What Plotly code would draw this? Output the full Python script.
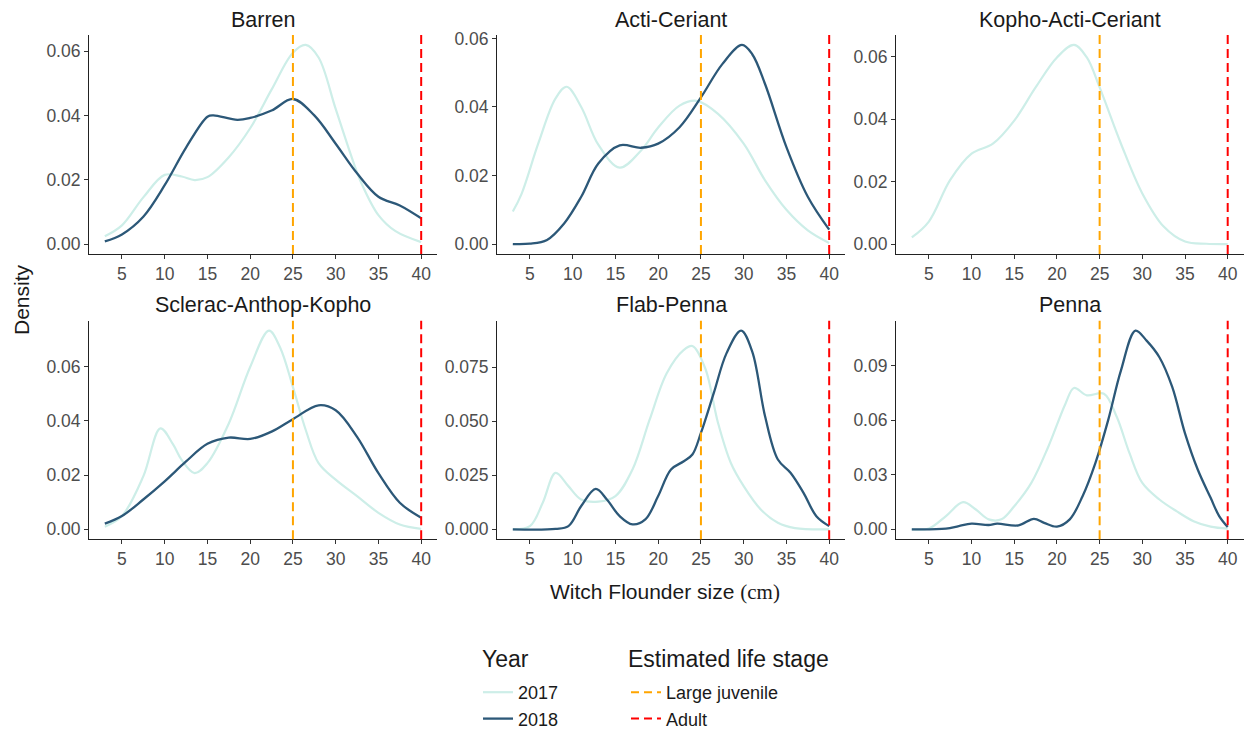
import plotly.graph_objects as go

# ---------------- data ----------------
panels = ["Barren", "Acti-Ceriant", "Kopho-Acti-Ceriant",
          "Sclerac-Anthop-Kopho", "Flab-Penna", "Penna"]

barren_x17 = [3, 5, 7.5, 10, 12, 13.5, 15, 17.5, 20, 22.5, 25, 26.5, 28, 30, 32, 33, 35, 37, 40]
barren_y17 = [0.0024, 0.0058, 0.0145, 0.0215, 0.0210, 0.0199, 0.0208, 0.027, 0.036, 0.048, 0.0595, 0.0619, 0.058, 0.042, 0.026, 0.019, 0.009, 0.004, 0.0006]
barren_x18 = [3, 5, 7.5, 10, 12.5, 15, 15.7, 18.5, 20, 22.5, 25, 27.5, 30, 32.5, 35, 37.5, 40]
barren_y18 = [0.0008, 0.003, 0.0085, 0.0183, 0.030, 0.0396, 0.0400, 0.0386, 0.0392, 0.0415, 0.0451, 0.040, 0.0312, 0.022, 0.0147, 0.012, 0.008]

acti_x17 = [3, 4, 6, 8, 9.3, 11, 13, 15.5, 18, 20, 22.5, 24.5, 27, 30, 32.5, 35, 37.5, 40]
acti_y17 = [0.0095, 0.0145, 0.0295, 0.0425, 0.0459, 0.040, 0.029, 0.0223, 0.0273, 0.034, 0.0404, 0.0418, 0.038, 0.0293, 0.0186, 0.010, 0.004, 0.0003]
acti_x18 = [3, 5, 7, 9, 11, 13, 15.5, 18, 20, 22.5, 25, 27.5, 29.8, 31, 32.5, 35, 37.5, 40]
acti_y18 = [0.0, 0.0001, 0.0012, 0.006, 0.0138, 0.0235, 0.0288, 0.0281, 0.0293, 0.0341, 0.0428, 0.0525, 0.0581, 0.0554, 0.0467, 0.0283, 0.0138, 0.0042]

kopho_x17 = [3, 5, 7.5, 10, 12.5, 15, 17.5, 20, 22, 23.5, 25, 27.5, 30, 32.5, 35, 37.5, 40]
kopho_y17 = [0.0021, 0.0072, 0.0205, 0.0289, 0.0321, 0.0395, 0.0501, 0.0597, 0.0637, 0.0597, 0.0501, 0.0321, 0.0162, 0.0056, 0.0008, 0.0001, 0.0]

sclerac_x17 = [3, 5, 7.5, 9.5, 11, 12, 13.5, 15, 17.5, 20, 22.2, 23.5, 25, 26.5, 28, 30, 32.5, 35, 37.5, 40]
sclerac_y17 = [0.001, 0.0049, 0.0195, 0.0372, 0.0312, 0.0255, 0.0207, 0.0244, 0.039, 0.0598, 0.0732, 0.067, 0.0524, 0.0366, 0.0244, 0.0183, 0.0122, 0.0061, 0.0018, 0.0002]
sclerac_x18 = [3, 5, 7.5, 10, 12.5, 15, 17.5, 20, 22.5, 25, 28, 30, 32.5, 35, 37.5, 40]
sclerac_y18 = [0.0021, 0.0049, 0.011, 0.0177, 0.025, 0.0315, 0.0338, 0.0333, 0.036, 0.0406, 0.0457, 0.0439, 0.0341, 0.0207, 0.0098, 0.0043]

flab_x17 = [3, 5, 6.5, 8, 9.5, 11, 13, 15, 17, 19, 21, 23, 24, 25.5, 27, 28.5, 30, 32, 34, 36, 40]
flab_y17 = [0.0, 0.0015, 0.0123, 0.0261, 0.020, 0.0138, 0.0128, 0.0154, 0.0277, 0.0507, 0.0722, 0.083, 0.0848, 0.0745, 0.0492, 0.0307, 0.020, 0.0092, 0.0031, 0.0006, 0.0]
flab_x18 = [3, 8, 9.5, 11, 12.7, 14, 15.5, 17, 18.5, 20, 21.5, 23, 24, 25, 26.5, 28, 29.7, 31, 32.5, 34, 35.5, 37, 38.5, 40]
flab_y18 = [0.0, 0.0002, 0.0015, 0.0108, 0.0187, 0.0138, 0.0061, 0.0023, 0.0046, 0.0154, 0.0277, 0.0315, 0.0346, 0.0446, 0.063, 0.0815, 0.0919, 0.0822, 0.0523, 0.0323, 0.0261, 0.0169, 0.0061, 0.0015]

penna_x17 = [3, 5, 7, 9, 10.5, 12, 13.5, 15, 17, 19, 21, 22, 23.5, 25.5, 27, 28.5, 30, 32, 34, 36, 38, 40]
penna_y17 = [0.0, 0.0005, 0.0073, 0.0149, 0.0109, 0.0055, 0.0055, 0.0127, 0.0255, 0.0455, 0.069, 0.0776, 0.0736, 0.0745, 0.0618, 0.0418, 0.0255, 0.0164, 0.010, 0.0045, 0.0015, 0.0004]
penna_x18 = [3, 7, 8.5, 10, 12, 13, 15.5, 17.3, 18.5, 20, 21.5, 23, 24.5, 26, 27.5, 29.2, 30.5, 32, 33.5, 35, 36.5, 38, 39, 40]
penna_y18 = [0.0, 0.0004, 0.0018, 0.0031, 0.0024, 0.0031, 0.0022, 0.0058, 0.0036, 0.0015, 0.0055, 0.0182, 0.0364, 0.060, 0.0873, 0.1091, 0.1036, 0.0945, 0.0782, 0.0527, 0.0327, 0.0173, 0.0073, 0.0013]

series_2017 = [(barren_x17, barren_y17), (acti_x17, acti_y17), (kopho_x17, kopho_y17),
               (sclerac_x17, sclerac_y17), (flab_x17, flab_y17), (penna_x17, penna_y17)]
series_2018 = [(barren_x18, barren_y18), (acti_x18, acti_y18), None,
               (sclerac_x18, sclerac_y18), (flab_x18, flab_y18), (penna_x18, penna_y18)]

year_labels = ["2017", "2018"]
stage_labels = ["Large juvenile", "Adult"]
stage_sizes = [25, 40]
y_dticks = [0.02, 0.02, 0.02, 0.02, 0.025, 0.03]
y_formats = [".2f", ".2f", ".2f", ".2f", ".3f", ".2f"]

# ---------------- styling ----------------
C17 = "#cdeee8"
C18 = "#2c5878"
STAGE_COLORS = ["#FFA500", "#FF0000"]
FONT = "Liberation Sans, Arial, sans-serif"
W, H = 1244, 731

col_px = [(89, 437), (497, 845), (896, 1243.5)]
row_px = [(35, 254), (320.7, 539.3)]

fig = go.Figure()
XR = [1.15, 41.85]

for i, name in enumerate(panels):
    r, c = divmod(i, 3)
    ax = "" if i == 0 else str(i + 1)
    xa, ya = "x" + ax, "y" + ax
    ymax = max(series_2017[i][1] + (series_2018[i][1] if series_2018[i] else []))
    yr = [-0.05 * ymax, 1.05 * ymax]

    x0, x1 = col_px[c]
    t, b = row_px[r]
    common = dict(showgrid=False, zeroline=False, showline=True, linecolor="#222",
                  linewidth=1.1, ticks="outside", ticklen=4, tickcolor="#333", tickwidth=1,
                  tickfont=dict(family=FONT, size=17.5, color="#4d4d4d"))
    fig.update_layout({
        "xaxis" + ax: dict(domain=[x0 / W, x1 / W], range=XR, anchor=ya,
                           tick0=5, dtick=5, ticklabelstandoff=0, **common),
        "yaxis" + ax: dict(domain=[1 - b / H, 1 - t / H], range=yr, anchor=xa,
                           tick0=0, dtick=y_dticks[i], tickformat=y_formats[i], **common),
    })

    fig.add_trace(go.Scatter(x=series_2017[i][0], y=series_2017[i][1], mode="lines",
                             line=dict(color=C17, width=2.2, shape="spline", smoothing=1.0),
                             xaxis=xa, yaxis=ya, name=year_labels[0], legend="legend",
                             showlegend=(i == 0), cliponaxis=False))
    if series_2018[i]:
        fig.add_trace(go.Scatter(x=series_2018[i][0], y=series_2018[i][1], mode="lines",
                                 line=dict(color=C18, width=2.3, shape="spline", smoothing=1.0),
                                 xaxis=xa, yaxis=ya, name=year_labels[1], legend="legend",
                                 showlegend=(i == 0), cliponaxis=False))
    for s, col in zip(stage_sizes, STAGE_COLORS):
        fig.add_shape(type="line", xref=xa, yref=ya + " domain", x0=s, x1=s, y0=0, y1=1,
                      line=dict(color=col, width=2, dash="9px,5px"), layer="above")

    title_y = t - (15 if r == 0 else 16)
    fig.add_annotation(text=name, x=(x0 + x1) / 2 / W, y=1 - title_y / H,
                       xref="paper", yref="paper", showarrow=False,
                       xanchor="center", yanchor="middle",
                       font=dict(family=FONT, size=21.5, color="#1a1a1a"))

# legend entries for life stages
for lab, col in zip(stage_labels, STAGE_COLORS):
    fig.add_trace(go.Scatter(x=[None], y=[None], mode="lines", name=lab, legend="legend2",
                             line=dict(color=col, width=2, dash="8px,5px"), showlegend=True))

# axis titles
fig.add_annotation(text="Witch Flounder size <span style='font-family:Liberation Serif'>(cm)</span>",
                   x=665 / W, y=1 - 592 / H, xref="paper", yref="paper", showarrow=False,
                   xanchor="center", yanchor="middle",
                   font=dict(family=FONT, size=21, color="#1a1a1a"))
fig.add_annotation(text="Density", x=21 / W, y=1 - 300 / H, xref="paper", yref="paper",
                   showarrow=False, textangle=-90, xanchor="center", yanchor="middle",
                   font=dict(family=FONT, size=21, color="#1a1a1a"))

# legend titles
fig.add_annotation(text="Year", x=480 / W, y=1 - 659 / H, xref="paper", yref="paper",
                   showarrow=False, xanchor="left", yanchor="middle",
                   font=dict(family=FONT, size=23, color="#1a1a1a"))
fig.add_annotation(text="Estimated life stage", x=626 / W, y=1 - 659 / H, xref="paper", yref="paper",
                   showarrow=False, xanchor="left", yanchor="middle",
                   font=dict(family=FONT, size=23, color="#1a1a1a"))

leg_common = dict(yanchor="top", xanchor="left", bgcolor="rgba(0,0,0,0)",
                  font=dict(family=FONT, size=18, color="#1a1a1a"),
                  itemwidth=30, tracegroupgap=0)
fig.update_layout(
    width=W, height=H, margin=dict(l=0, r=0, t=0, b=0, autoexpand=False),
    paper_bgcolor="white", plot_bgcolor="white",
    legend=dict(x=478 / W, y=1 - 674 / H, **leg_common),
    legend2=dict(x=626 / W, y=1 - 674 / H, **leg_common),
)

fig.write_html("out.html")
